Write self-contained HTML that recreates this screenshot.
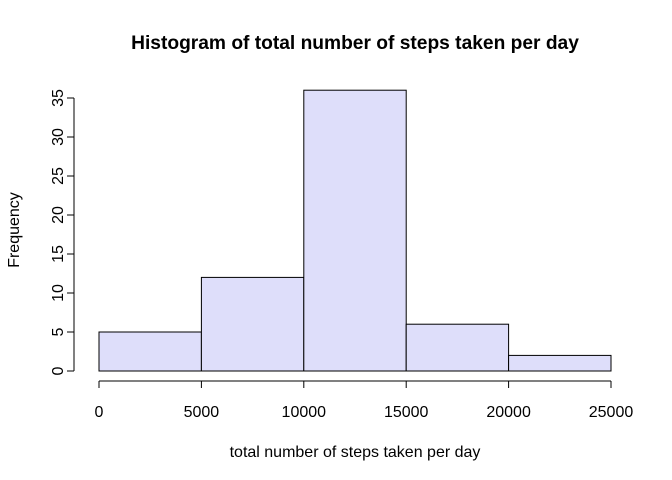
<!DOCTYPE html>
<html><head><meta charset="utf-8"><style>
body{margin:0;background:#fff}
svg{display:block;font-family:"Liberation Sans",Arial,sans-serif}
</style></head><body>
<svg id="chart" width="672" height="480">
<text x="355" y="49" text-anchor="middle" font-weight="bold" font-size="19.2">Histogram of total number of steps taken per day</text>
<text x="355" y="457" text-anchor="middle" font-size="16">total number of steps taken per day</text>
<text transform="translate(19,230) rotate(-90)" text-anchor="middle" font-size="16">Frequency</text>
<g id="bars"></g><g id="xaxis"></g><g id="yaxis"></g>
</svg>
<script>
const breaks=[0,5000,10000,15000,20000,25000];
const counts=[5,12,36,6,2];
const xTicks=[0,5000,10000,15000,20000,25000];
const yTicks=[0,5,10,15,20,25,30,35];
const NS="http://www.w3.org/2000/svg";
const x=v=>99+v*(512/25000);
const y=v=>371-v*7.8;
function mk(t,a,p){const e=document.createElementNS(NS,t);for(const k in a)e.setAttribute(k,a[k]);p.appendChild(e);return e;}
const bars=document.getElementById('bars');
counts.forEach((c,i)=>{
 const r=mk('rect',{x:x(breaks[i]),y:y(c),width:x(breaks[i+1])-x(breaks[i]),height:y(0)-y(c),fill:'#dedefa',stroke:'#000','stroke-width':1},bars);
 
 
});
const xa=document.getElementById('xaxis');


mk('line',{x1:x(xTicks[0]),x2:x(xTicks[xTicks.length-1]),y1:381,y2:381,stroke:'#000'},xa);
xTicks.forEach(t=>{
 mk('line',{x1:x(t),x2:x(t),y1:381,y2:388,stroke:'#000'},xa);
 const tx=mk('text',{x:x(t),y:417,'text-anchor':'middle','font-size':16},xa);tx.textContent=t;
 
 
});
const ya=document.getElementById('yaxis');


mk('line',{x1:74,x2:74,y1:y(yTicks[0]),y2:y(yTicks[yTicks.length-1]),stroke:'#000'},ya);
yTicks.forEach(t=>{
 mk('line',{x1:67,x2:74,y1:y(t),y2:y(t),stroke:'#000'},ya);
 const tx=mk('text',{transform:`translate(63,${y(t)}) rotate(-90)`,'text-anchor':'middle','font-size':16},ya);tx.textContent=t;
 
 
});
</script>
</body></html>
